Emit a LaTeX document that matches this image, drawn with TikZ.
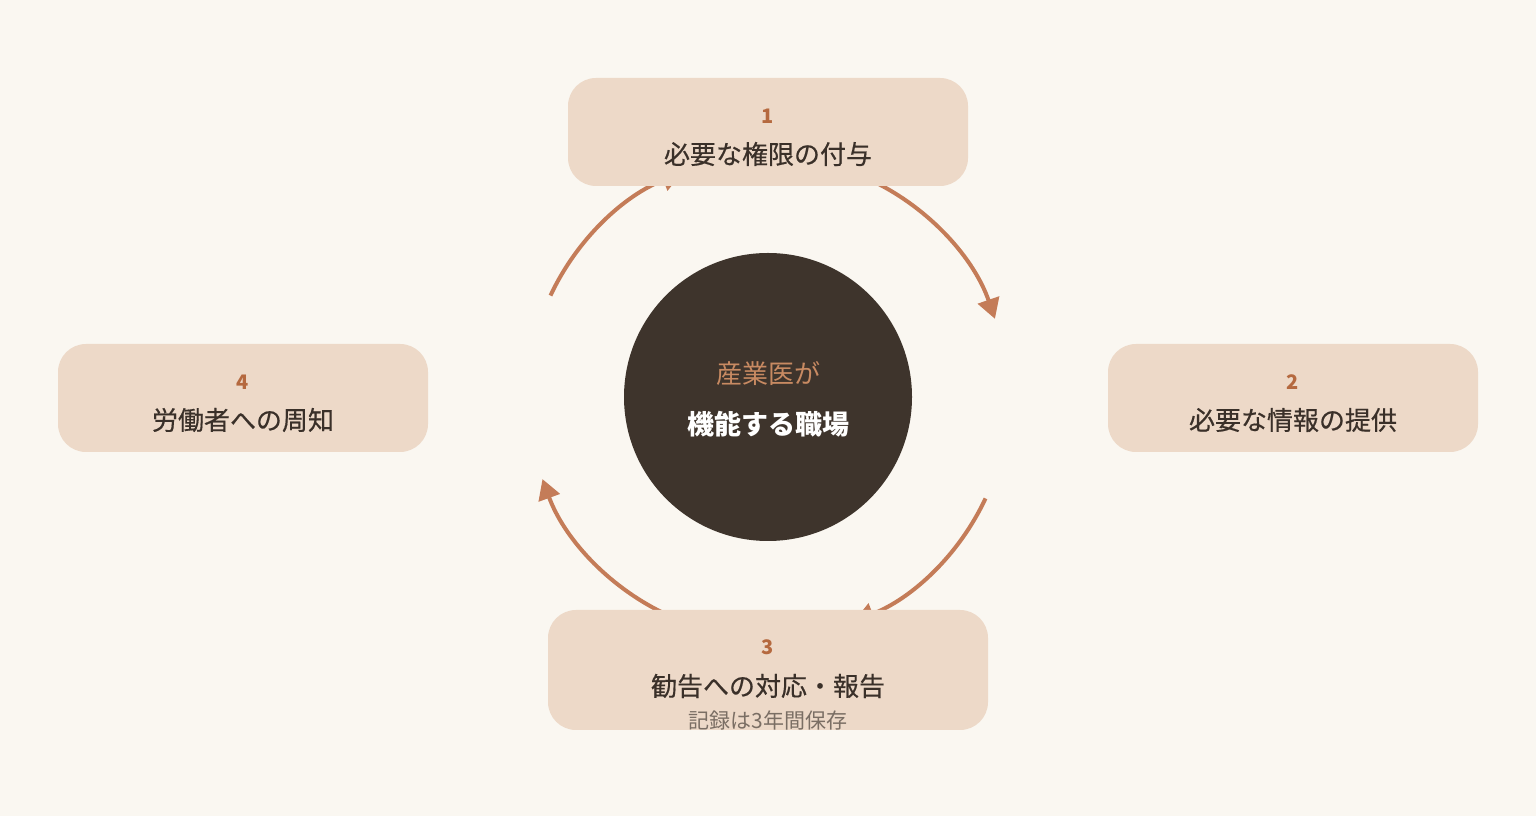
\documentclass[tikz,border=0pt]{standalone}
\usepackage{fontspec}
\setmainfont{Noto Sans CJK JP}
\newfontfamily\titlefont{Noto Sans CJK JP}[FakeBold=0.5]
\usetikzlibrary{arrows.meta}
\definecolor{bg}{HTML}{FAF7F1}
\definecolor{boxfill}{HTML}{EDD9C8}
\definecolor{numc}{HTML}{B5693F}
\definecolor{titlec}{HTML}{3A3029}
\definecolor{subc}{HTML}{7A6E64}
\definecolor{circc}{HTML}{3E342C}
\definecolor{arrc}{HTML}{C47C58}
\definecolor{leadc}{HTML}{C88A62}
\tikzset{
  stepbox/.style={fill=boxfill, rounded corners=28pt, draw=none, inner sep=0pt},
  numtxt/.style={text=numc, font=\fontsize{20}{24}\selectfont\bfseries, inner sep=0pt},
  titletxt/.style={text=titlec, font=\titlefont\fontsize{26}{30}\selectfont, inner sep=0pt},
  subtxt/.style={text=subc, font=\fontsize{21}{25}\selectfont, inner sep=0pt},
  cyclearrow/.style={draw=arrc, line width=4pt, -{Triangle[length=20pt,width=22pt]}},
}
\begin{document}
\begin{tikzpicture}[x=1pt,y=1pt]
\fill[bg] (0,0) rectangle (1536,816);
\useasboundingbox (0,0) rectangle (1536,816);
\coordinate (c) at (768,419);
% arcs
\draw[cyclearrow] (c) ++(155:240) arc[start angle=155, end angle=111, radius=240];
\draw[cyclearrow] (c) ++(64:240) arc[start angle=64, end angle=19, radius=240];
\draw[cyclearrow] (c) ++(-25:240) arc[start angle=-25, end angle=-69, radius=240];
\draw[cyclearrow] (c) ++(-116:240) arc[start angle=-116, end angle=-160, radius=240];
% center circle
\node[circle, fill=circc, minimum size=288pt, inner sep=0pt] (hub) at (768,419) {};
\node[text=leadc, font=\fontsize{26}{30}\selectfont, inner sep=0pt] (lead) at (768,442) {産業医が};
\node[text=white, font=\fontsize{27}{32}\selectfont\bfseries, inner sep=0pt] (main) at (768,392) {機能する職場};
% boxes
\node[stepbox, minimum width=400pt, minimum height=108pt] (b1) at (768,684) {};
\node[numtxt] (n1) at (768,700) {1};
\node[titletxt] (t1) at (768,662) {必要な権限の付与};
\node[stepbox, minimum width=370pt, minimum height=108pt] (b2) at (1293,418) {};
\node[numtxt] (n2) at (1293,434) {2};
\node[titletxt] (t2) at (1293,396) {必要な情報の提供};
\node[stepbox, minimum width=440pt, minimum height=120pt] (b3) at (768,146) {};
\node[numtxt] (n3) at (768,169) {3};
\node[titletxt] (t3) at (768,130) {勧告への対応・報告};
\node[subtxt] (s3) at (768,96) {記録は3年間保存};
\node[stepbox, minimum width=370pt, minimum height=108pt] (b4) at (243,418) {};
\node[numtxt] (n4) at (243,434) {4};
\node[titletxt] (t4) at (243,396) {労働者への周知};
\end{tikzpicture}
\end{document}
